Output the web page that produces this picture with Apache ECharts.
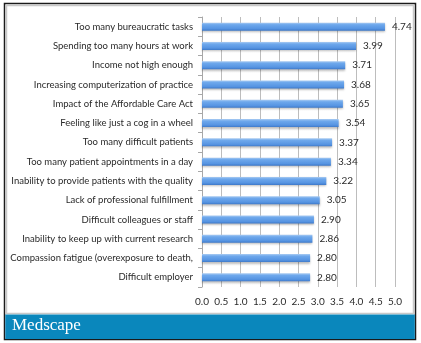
<!DOCTYPE html>
<html>
<head>
<meta charset="utf-8">
<script src="https://cdn.jsdelivr.net/npm/echarts@6/dist/echarts.min.js"></script>
<style>
  html, body { margin: 0; padding: 0; background: #fff; }
  #chart { width: 421px; height: 343px; }
</style>
</head>
<body>
<div id="chart"></div>
<script>
// Reasons for burnout, ranked by mean severity score
const categories = [
  'Too many bureaucratic tasks',
  'Spending too many hours at work',
  'Income not high enough',
  'Increasing computerization of practice',
  'Impact of the Affordable Care Act',
  'Feeling like just a cog in a wheel',
  'Too many difficult patients',
  'Too many patient appointments in a day',
  'Inability to provide patients with the quality',
  'Lack of professional fulfillment',
  'Difficult colleagues or staff',
  'Inability to keep up with current research',
  'Compassion fatigue (overexposure to death,',
  'Difficult employer'
];
const scores = [4.74, 3.99, 3.71, 3.68, 3.65, 3.54, 3.37, 3.34, 3.22, 3.05, 2.90, 2.86, 2.80, 2.80];
const brandName = 'Medscape';

const chart = echarts.init(document.getElementById('chart'), null, { renderer: 'canvas' });
const labelFont = 'Lato, "Open Sans", sans-serif';

chart.setOption({
  animation: false,
  backgroundColor: '#ffffff',
  graphic: [
    // outer frame
    { type: 'rect', shape: { x: 4.5, y: 3.5, width: 411, height: 336 },
      style: { fill: '#ffffff', stroke: '#1a1a1a', lineWidth: 1.5 }, z: -10 },
    // inner light border of the panel
    { type: 'rect', shape: { x: 6.5, y: 5.5, width: 407, height: 308 },
      style: { fill: 'none', stroke: '#c8c8c8', lineWidth: 1.5 }, z: -9 },
    // footer band
    { type: 'rect', shape: { x: 5.3, y: 314.5, width: 409.5, height: 24.5 },
      style: { fill: '#0a87bc' }, z: -8 },
    { type: 'text', left: 12, top: 317,
      style: { text: brandName, fill: '#ffffff', font: '17px "Liberation Serif", "DejaVu Serif", serif' }, z: 10 }
  ],
  grid: { left: 202, right: 26, top: 17, bottom: 56, containLabel: false },
  xAxis: {
    type: 'value', min: 0, max: 5, interval: 0.5,
    axisLine: { show: false },
    axisTick: { show: false },
    splitLine: { show: true, lineStyle: { color: '#bdbdbd', width: 1 } },
    axisLabel: {
      formatter: v => v.toFixed(1), color: '#2a2a2a', fontSize: 10,
      fontFamily: labelFont, margin: 10
    }
  },
  yAxis: {
    type: 'category', data: categories, inverse: true,
    axisLine: { show: true, lineStyle: { color: '#a8a8a8' } },
    axisTick: { show: true, length: 4, lineStyle: { color: '#a8a8a8' } },
    axisLabel: { color: '#2a2a2a', fontSize: 9.5, fontFamily: labelFont, margin: 9 }
  },
  series: [{
    type: 'bar', data: scores, barWidth: 8,
    itemStyle: {
      color: new echarts.graphic.LinearGradient(0, 0, 0, 1, [
        { offset: 0, color: '#a9cbf2' },
        { offset: 0.25, color: '#6ea8ec' },
        { offset: 0.75, color: '#5694e2' },
        { offset: 1, color: '#3e79c9' }
      ]),
      shadowColor: 'rgba(0,0,0,0.25)', shadowBlur: 2, shadowOffsetY: 1.5
    },
    label: {
      show: true, position: 'right', distance: 7,
      formatter: p => p.value.toFixed(2),
      color: '#2a2a2a', fontSize: 10, fontFamily: labelFont
    }
  }]
});
</script>
</body>
</html>
